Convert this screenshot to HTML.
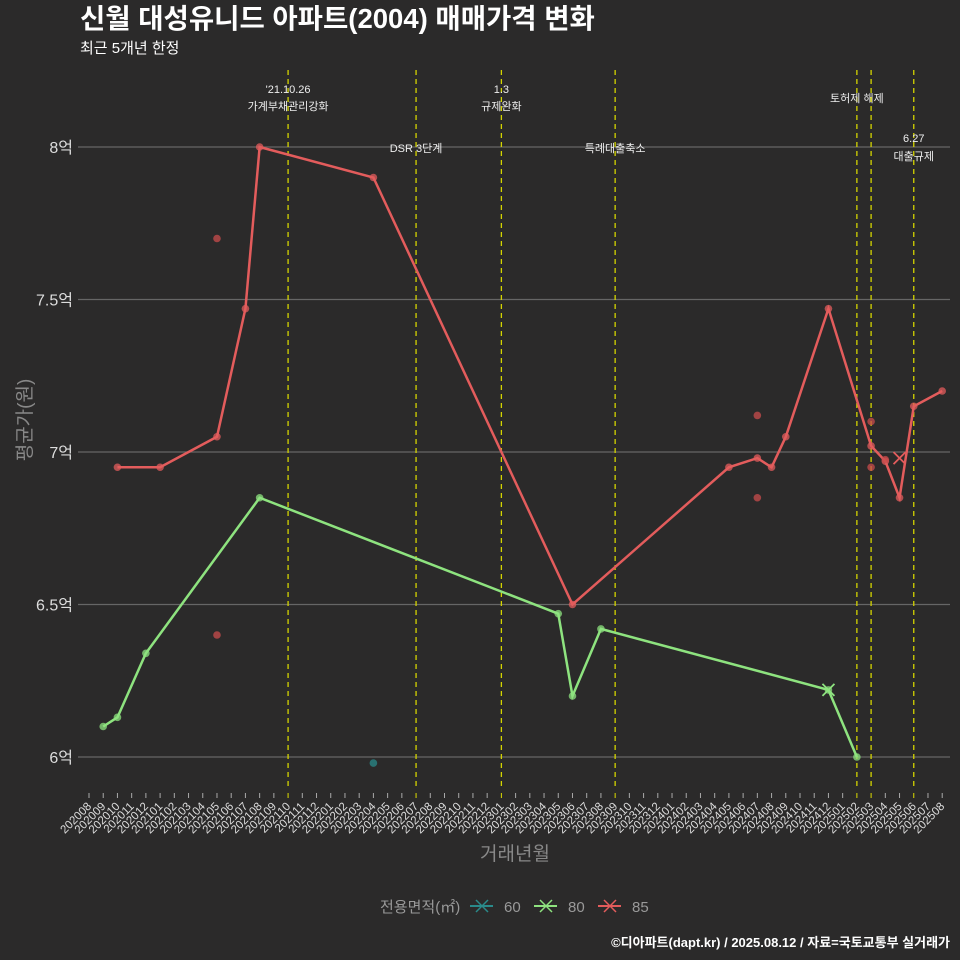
<!DOCTYPE html>
<html><head><meta charset="utf-8"><style>
html,body{margin:0;background:#2b2a2a;width:960px;height:960px;overflow:hidden;}
svg{display:block;}
svg text{font-family:"Liberation Sans","Noto Sans CJK KR",sans-serif;}
</style></head><body>
<svg id="c" width="960" height="960" xmlns="http://www.w3.org/2000/svg">
<rect width="960" height="960" fill="#2b2a2a"/>
<text x="80" y="28" font-size="27.5" font-weight="bold" fill="#fff">신월 대성유니드 아파트(2004) 매매가격 변화</text>
<text x="80" y="53" font-size="15" fill="#fff">최근 5개년 한정</text>
<g id="grid"></g><g id="vl"></g><g id="ser"></g><g id="xt"></g>
<text x="31" y="420" font-size="19" fill="#888" transform="rotate(-90 31 420)" text-anchor="middle">평균가(원)</text>
<text x="515" y="860" font-size="19" fill="#888" text-anchor="middle">거래년월</text>
<g>
<text x="380" y="912" font-size="15" fill="#999">전용면적(㎡)</text>
<g><line x1="470" y1="906" x2="493" y2="906" stroke="#2a8a8a" stroke-width="2"/><path d="M476 900L488 912M488 900L476 912" stroke="#2a8a8a" stroke-width="1.5"/><text x="504" y="912" font-size="15" fill="#999">60</text></g>
<g><line x1="534" y1="906" x2="557" y2="906" stroke="#8ee37f" stroke-width="2"/><path d="M540 900L552 912M552 900L540 912" stroke="#8ee37f" stroke-width="1.5"/><text x="568" y="912" font-size="15" fill="#999">80</text></g>
<g><line x1="598" y1="906" x2="621" y2="906" stroke="#e35c5c" stroke-width="2"/><path d="M604 900L616 912M616 900L604 912" stroke="#e35c5c" stroke-width="1.5"/><text x="632" y="912" font-size="15" fill="#999">85</text></g>
</g>
<text x="950" y="947" font-size="13" font-weight="bold" fill="#fff" text-anchor="end">©디아파트(dapt.kr) / 2025.08.12 / 자료=국토교통부 실거래가</text>
</svg>
<script>
const yTicks=[6,6.5,7,7.5,8];
const yLabels=['6억','6.5억','7억','7.5억','8억'];
const redLineM=['202010','202101','202105','202107','202108','202204','202306','202405','202407','202408','202409','202412','202503','202504','202505','202506','202508'];
const redLineV=[6.95,6.95,7.05,7.47,8.0,7.9,6.5,6.95,6.98,6.95,7.05,7.47,7.02,6.97,6.85,7.15,7.2];
const redPtM=['202105','202105','202407','202407','202503','202503','202504'];
const redPtV=[7.7,6.4,7.12,6.85,7.1,6.95,6.975];
const redXM=['202505'];const redXV=[6.98];
const greenLineM=['202009','202010','202012','202108','202305','202306','202308','202412','202502'];
const greenLineV=[6.1,6.13,6.34,6.85,6.47,6.2,6.42,6.22,6.0];
const greenXM=['202412'];const greenXV=[6.22];
const tealM=['202204'];const tealV=[5.98];
const events=['202110','202207','202301','202309','202502','202503','202506'];
const eventLabels=[["'21.10.26","가계부채관리강화"],["DSR 3단계"],["1.3","규제완화"],["특례대출축소"],["토허제 해제"],[],["6.27","대출규제"]];
const eventLabelY=[[93,110],[152],[93,110],[152],[102],[],[142,160]];
const months=[];for(let y=2020,m=8;y*100+m<=202508;){months.push(''+y+String(m).padStart(2,'0'));m++;if(m>12){m=1;y++;}}
const NS='http://www.w3.org/2000/svg';
const X=s=>89+months.indexOf(s)*14.22;
const Y=v=>757-(v-6)*305;
function mk(p,t,a){const e=document.createElementNS(NS,t);for(const k in a)e.setAttribute(k,a[k]);document.getElementById(p).appendChild(e);return e;}
yTicks.forEach((v,i)=>{
 const l=mk('grid','line',{x1:78,x2:950,y1:Y(v),y2:Y(v),stroke:'#666','stroke-width':1.2});
 
 
 const t=mk('grid','text',{x:73,y:Y(v)+6,'font-size':16,fill:'#ddd','text-anchor':'end'});t.textContent=yLabels[i];
 
 
});
months.forEach(m=>{
 const x=X(m);const ev=events.includes(m);
 const k=mk('xt','line',{x1:x,x2:x,y1:793,y2:798,stroke:ev?'#dddd00':'#aaa'});
 
 
 const t=mk('xt','text',{x:x+3,y:807,'font-size':11.5,fill:'#ddd','text-anchor':'end',transform:`rotate(-45 ${x+3} 807)`});t.textContent=m;
 
 
});
events.forEach((m,i)=>{
 const l=mk('vl','line',{x1:X(m),x2:X(m),y1:70,y2:790,stroke:'#d4d400','stroke-dasharray':'5,4','stroke-width':1.3});
 
 
 eventLabels[i].forEach((s,j)=>{const t=mk('vl','text',{x:X(m),y:eventLabelY[i][j],'font-size':11,fill:'#eee','text-anchor':'middle'});t.textContent=s;
 
 });
});
function line(ms,vs,c,n){const p=mk('ser','polyline',{points:ms.map((m,i)=>X(m)+','+Y(vs[i])).join(' '),fill:'none',stroke:c,'stroke-width':2.5});
 
 }
function pts(ms,vs,c,n){ms.forEach((m,i)=>{const e=mk('ser','circle',{cx:X(m),cy:Y(vs[i]),r:3.8,fill:c,'fill-opacity':0.75});
 
 });}
function xs(ms,vs,c,n){ms.forEach((m,i)=>{const x=X(m),y=Y(vs[i]);const e=mk('ser','path',{d:`M${x-6} ${y-6}L${x+6} ${y+6}M${x+6} ${y-6}L${x-6} ${y+6}`,stroke:c,'stroke-width':1.8});
 
 });}
line(greenLineM,greenLineV,'#8ee37f','line-80');
pts(greenLineM,greenLineV,'#8ee37f','point-80');
xs(greenXM,greenXV,'#8ee37f','cross-80');
pts(tealM,tealV,'#2a8a8a','point-60');
line(redLineM,redLineV,'#e35c5c','line-85');
pts(redLineM,redLineV,'#e35c5c','point-85');
pts(redPtM,redPtV,'#c94c4c','point-85-extra');
xs(redXM,redXV,'#e35c5c','cross-85');
</script>
</body></html>
